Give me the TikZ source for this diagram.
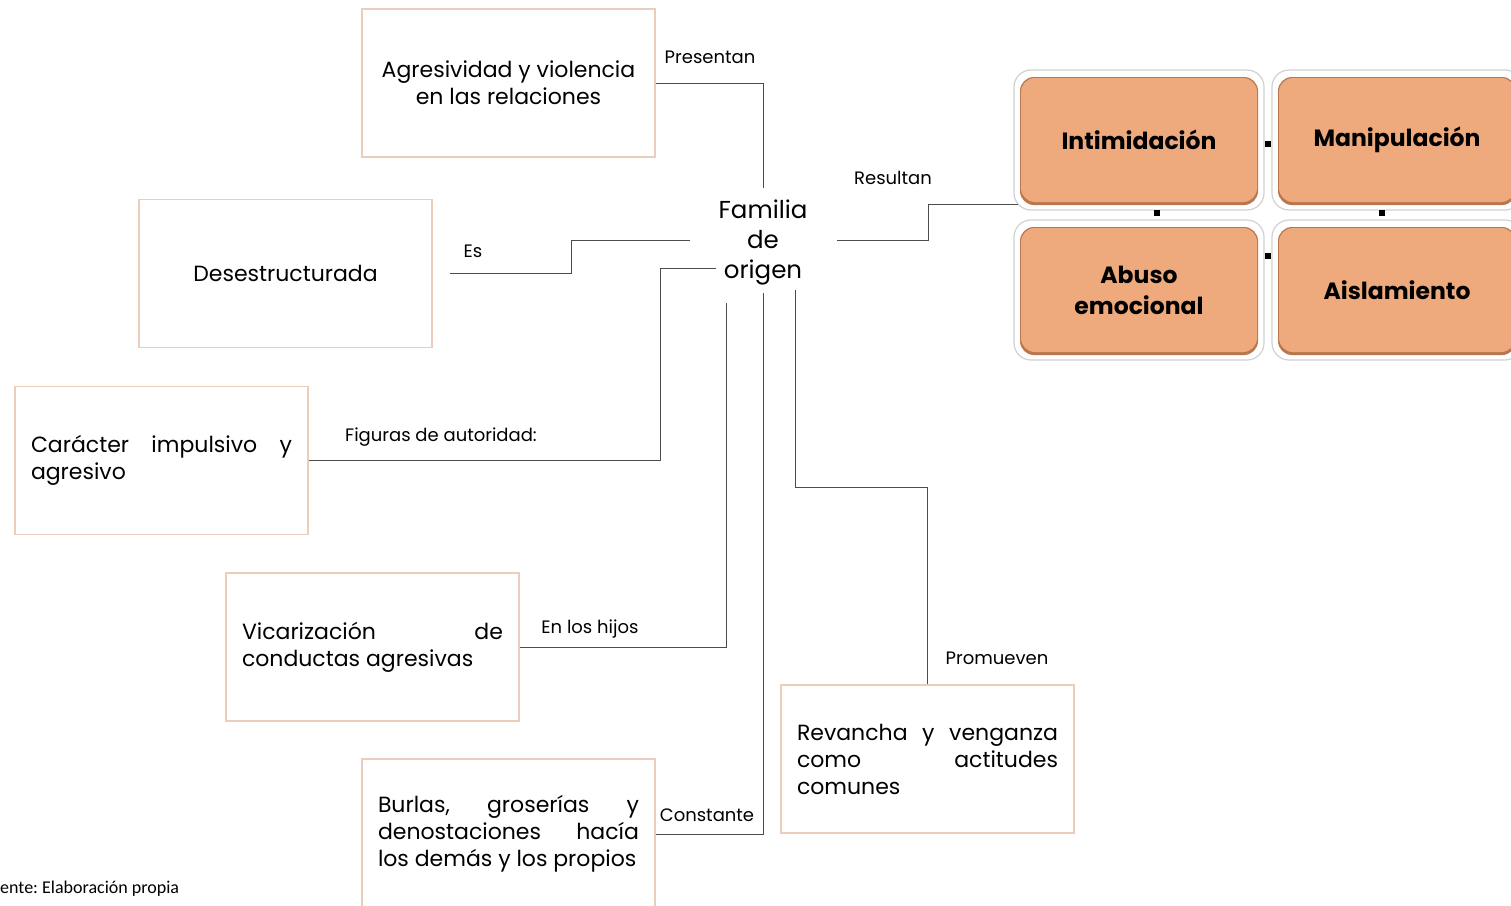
\documentclass[tikz,border=0pt]{standalone}
\usepackage{fontspec}
\setmainfont{Poppins}
\newfontfamily\calfont{Carlito}
\definecolor{boxline}{HTML}{EBCDBB}
\definecolor{orfill}{HTML}{EEAA7C}
\definecolor{ordark}{HTML}{B9774E}
\frenchspacing
\begin{document}
\begin{tikzpicture}[x=1pt,y=-1pt,
 box/.style={draw=boxline, line width=1.2pt, minimum width=293pt, minimum height=148pt, inner sep=0pt, font=\fontsize{22}{27}\selectfont},
 jbox/.style={box, text width=261pt, align=justify},
 lbl/.style={font=\fontsize{18}{20}\selectfont, inner sep=0pt},
 conn/.style={draw=black!70, line width=1pt},
 halo/.style={draw=black!18, fill=white, rounded corners=17pt, line width=1.2pt, minimum width=250pt, minimum height=140pt},
 oshadow/.style={fill=ordark, rounded corners=14pt, minimum width=238pt, minimum height=128pt},
 obox/.style={fill=orfill, rounded corners=14pt, minimum width=236pt, minimum height=124pt, font=\bfseries\fontsize{23.5}{31}\selectfont, align=center},
 sq/.style={fill=black, minimum size=6.5pt, inner sep=0pt}
]
\useasboundingbox (0,0) rectangle (1511,905);

% boxes
\node[box, align=center] (A) at (508.5,83) {Agresividad y violencia\\en las relaciones};
\node[box, align=center] (D) at (285.5,273.5) {Desestructurada};
\node[jbox] (C) at (161.5,460.5) {Carácter impulsivo y\linebreak agresivo};
\node[jbox] (V) at (372.5,647) {Vicarización de\linebreak conductas agresivas};
\node[jbox, minimum height=150pt] (B) at (508.5,834) {Burlas, groserías y\linebreak denostaciones hacía\linebreak los demás y los propios};
\node[jbox] (R) at (927.5,759) {Revancha y venganza\linebreak como actitudes\linebreak comunes};

% center
\node[font=\fontsize{24.5}{30}\selectfont, align=center, inner sep=0pt] (fam) at (763,242) {Familia\\de\\origen};
\coordinate (famN) at (763,188);
\coordinate (famW) at (690,240);
\coordinate (famE) at (837,240);
\coordinate (famL) at (716,268);
\coordinate (famS1) at (726,303);
\coordinate (famS2) at (763,293);
\coordinate (famS3) at (795,290);
\coordinate (dS) at (450,273);
\coordinate (res) at (1018,204);

% orange group
\node[halo] (h1) at (1139,140) {};
\node[halo] (h2) at (1397,140) {};
\node[halo] (h3) at (1139,290) {};
\node[halo] (h4) at (1397,290) {};
\foreach \n/\x/\y in {1/1139/141,2/1397/141,3/1139/291,4/1397/291}
  \node[oshadow] (s\n) at (\x,\y) {};
\node[obox] (o1) at (1139,140) {Intimidación};
\node[obox] (o2) at (1397,140) {Manipulación};
\node[obox] (o3) at (1139,290) {Abuso\\emocional};
\node[obox] (o4) at (1397,290) {Aislamiento};
\node[sq] (q1) at (1268,144) {};
\node[sq] (q2) at (1157,213) {};
\node[sq] (q3) at (1382,213) {};
\node[sq] (q4) at (1268,256) {};

% connectors
\draw[conn] (A.east) -| (famN);
\draw[conn] (dS) -- ++(121,0) |- (famW);
\draw[conn] (famE) -- ++(91,0) |- (res);
\draw[conn] (C.east) -- ++(352,0) |- (famL);
\draw[conn] (V.east) -| (famS1);
\draw[conn] (B.east) -| (famS2);
\draw[conn] (famS3) -- ++(0,197) -| (R.north);

% labels
\node[lbl] (l1) at (710,57) {Presentan};
\node[lbl] (l2) at (473,251) {Es};
\node[lbl] (l3) at (893,178) {Resultan};
\node[lbl] (l4) at (441,437) {Figuras de autoridad:};
\node[lbl] (l5) at (590,629) {En los hijos};
\node[lbl] (l6) at (707,815) {Constante};
\node[lbl] (l7) at (997,658) {Promueven};

\node[font=\calfont\fontsize{18}{20}\selectfont, anchor=west, inner sep=0pt] (src) at (0,889) {ente: Elaboración propia};
\end{tikzpicture}
\end{document}
